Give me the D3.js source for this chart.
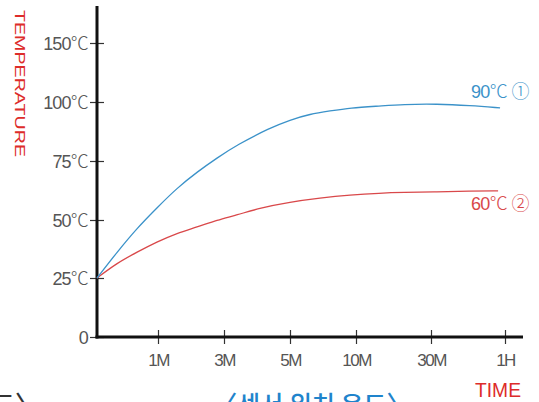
<!DOCTYPE html>
<html><head><meta charset="utf-8">
<script src="https://cdn.jsdelivr.net/npm/d3@7"></script>
<style>
html,body{margin:0;padding:0;background:#fff;}
svg{display:block;}
</style></head>
<body>
<script>
// ---- data ----
const timeTicks = [1, 3, 5, 10, 30, 60];           // minutes
const timeTickLabels = ["1M", "3M", "5M", "10M", "30M", "1H"];
const tempTicks = [0, 25, 50, 75, 100, 150];
const tempTickLabels = ["0", "25℃", "50℃", "75℃", "100℃", "150℃"];

const series90Time = [0, 0.33, 0.66, 0.98, 1.58, 2.18, 2.79, 3.39, 4.39, 5, 6.52, 8.03, 9.55, 16.4, 22.5, 32.4, 45.8, 58];
const series90Temp = [25, 36.2, 46.6, 55.1, 63.6, 70.3, 76.3, 81.8, 89.0, 92.4, 94.9, 96.2, 97.5, 98.3, 99.0, 99.2, 98.5, 97.5];
const series60Time = [0, 0.33, 0.66, 0.98, 1.58, 2.18, 2.79, 3.39, 4.09, 5, 7.27, 9.55, 16.4, 22.5, 32.4, 45.8, 57.2];
const series60Temp = [25, 31.5, 36.2, 40.5, 44.4, 46.9, 50, 52.1, 55.1, 57.6, 59.3, 60.6, 61.4, 61.7, 61.9, 62.3, 62.3];
const seriesLabels = ["90℃ ①", "60℃ ②"];

const W = 539, H = 402;
const svg = d3.select("body").append("svg").attr("width", W).attr("height", H);

// piecewise (evenly spaced tick) scales
const x = d3.scaleLinear().domain([0, 1, 3, 5, 10, 30, 60]).range([97, 158, 224, 290, 356, 431, 505]);
const y = d3.scaleLinear().domain([0, 25, 50, 75, 100, 150]).range([337, 278, 220, 161, 102, 43]);

const blue = "#3b92c9", red = "#d9484a", grey = "#555", titleRed = "#dd2c2a";
const latin = "'Liberation Sans', Arial, sans-serif";
const cjk = "'Noto Sans CJK KR', sans-serif";

// put special symbols (℃ ① ②) into CJK-font tspans
function richText(sel, str) {
  sel.text(null);
  const parts = str.split(/([℃①②])/).filter(s => s.length);
  parts.forEach(p => {
    const t = sel.append("tspan").text(p);
    if (/[℃①②]/.test(p)) t.attr("font-family", cjk).attr("font-weight", 300);
  });
}

// Y axis
const yAxis = svg.append("g").attr("transform", "translate(97,0)")
  .call(d3.axisLeft(y).tickValues(tempTicks).tickFormat((d, i) => tempTickLabels[i]).tickSizeOuter(0).tickSize(7).tickPadding(2));
yAxis.select(".domain").remove();
yAxis.selectAll(".tick line").attr("x1", -7).attr("x2", 7).attr("stroke", "#333").attr("stroke-width", 1.2);
yAxis.selectAll(".tick text").attr("font-family", latin).attr("font-size", 18).attr("fill", grey)
  .attr("letter-spacing", "-0.8px").attr("dy", "0.34em")
  .each(function(d, i) { richText(d3.select(this), tempTickLabels[i]); });

// X axis
const xAxis = svg.append("g").attr("transform", "translate(0,337)")
  .call(d3.axisBottom(x).tickValues(timeTicks).tickFormat((d, i) => timeTickLabels[i]).tickSizeOuter(0).tickSize(7).tickPadding(10));
xAxis.select(".domain").remove();
xAxis.selectAll(".tick line").attr("y1", -7).attr("y2", 7).attr("stroke", "#333").attr("stroke-width", 1.2);
xAxis.selectAll(".tick text").attr("font-family", latin).attr("font-size", 17).attr("fill", grey)
  .attr("letter-spacing", "-1.5px");

// axis lines
svg.append("line").attr("x1", 97).attr("x2", 97).attr("y1", 6).attr("y2", 338.5)
  .attr("stroke", "#111").attr("stroke-width", 3);
svg.append("line").attr("x1", 95.5).attr("x2", 523).attr("y1", 337).attr("y2", 337)
  .attr("stroke", "#111").attr("stroke-width", 3);

// series
const line = d3.line().x(d => x(d[0])).y(d => y(d[1])).curve(d3.curveBasis);
const s90 = series90Time.map((t, i) => [t, series90Temp[i]]);
const s60 = series60Time.map((t, i) => [t, series60Temp[i]]);
svg.append("path").datum(s60).attr("d", line).attr("fill", "none").attr("stroke", red).attr("stroke-width", 1.3);
svg.append("path").datum(s90).attr("d", line).attr("fill", "none").attr("stroke", blue).attr("stroke-width", 1.3);

// series labels
const l1 = svg.append("text").attr("x", 529).attr("y", 98).attr("text-anchor", "end")
  .attr("font-family", latin).attr("font-size", 18).attr("fill", blue).attr("letter-spacing", "-0.6px");
richText(l1, seriesLabels[0]);
const l2 = svg.append("text").attr("x", 529).attr("y", 210).attr("text-anchor", "end")
  .attr("font-family", latin).attr("font-size", 18).attr("fill", red).attr("letter-spacing", "-0.6px");
richText(l2, seriesLabels[1]);

// axis titles
svg.append("text").attr("transform", "translate(14.5,10) rotate(90)")
  .attr("font-family", latin)
  .attr("font-size", 15.5).attr("fill", titleRed)
  .attr("textLength", 147).attr("lengthAdjust", "spacingAndGlyphs")
  .text("TEMPERATURE");
svg.append("text").attr("x", 475).attr("y", 397)
  .attr("font-family", latin)
  .attr("font-size", 20).attr("fill", titleRed)
  .attr("textLength", 46).attr("lengthAdjust", "spacingAndGlyphs")
  .text("TIME");

// captions at bottom (cut by the frame, as in the reference)
svg.append("text").attr("x", 312).attr("y", 414).attr("text-anchor", "middle")
  .attr("font-family", cjk).attr("font-weight", 500)
  .attr("font-size", 25).attr("fill", "#1f84cc")
  .text("〈센서 위치 온도〉");
svg.append("text").attr("x", 40).attr("y", 414).attr("text-anchor", "end")
  .attr("font-family", cjk).attr("font-weight", 500)
  .attr("font-size", 25).attr("fill", "#333")
  .text("온도〉");
</script>
</body></html>
